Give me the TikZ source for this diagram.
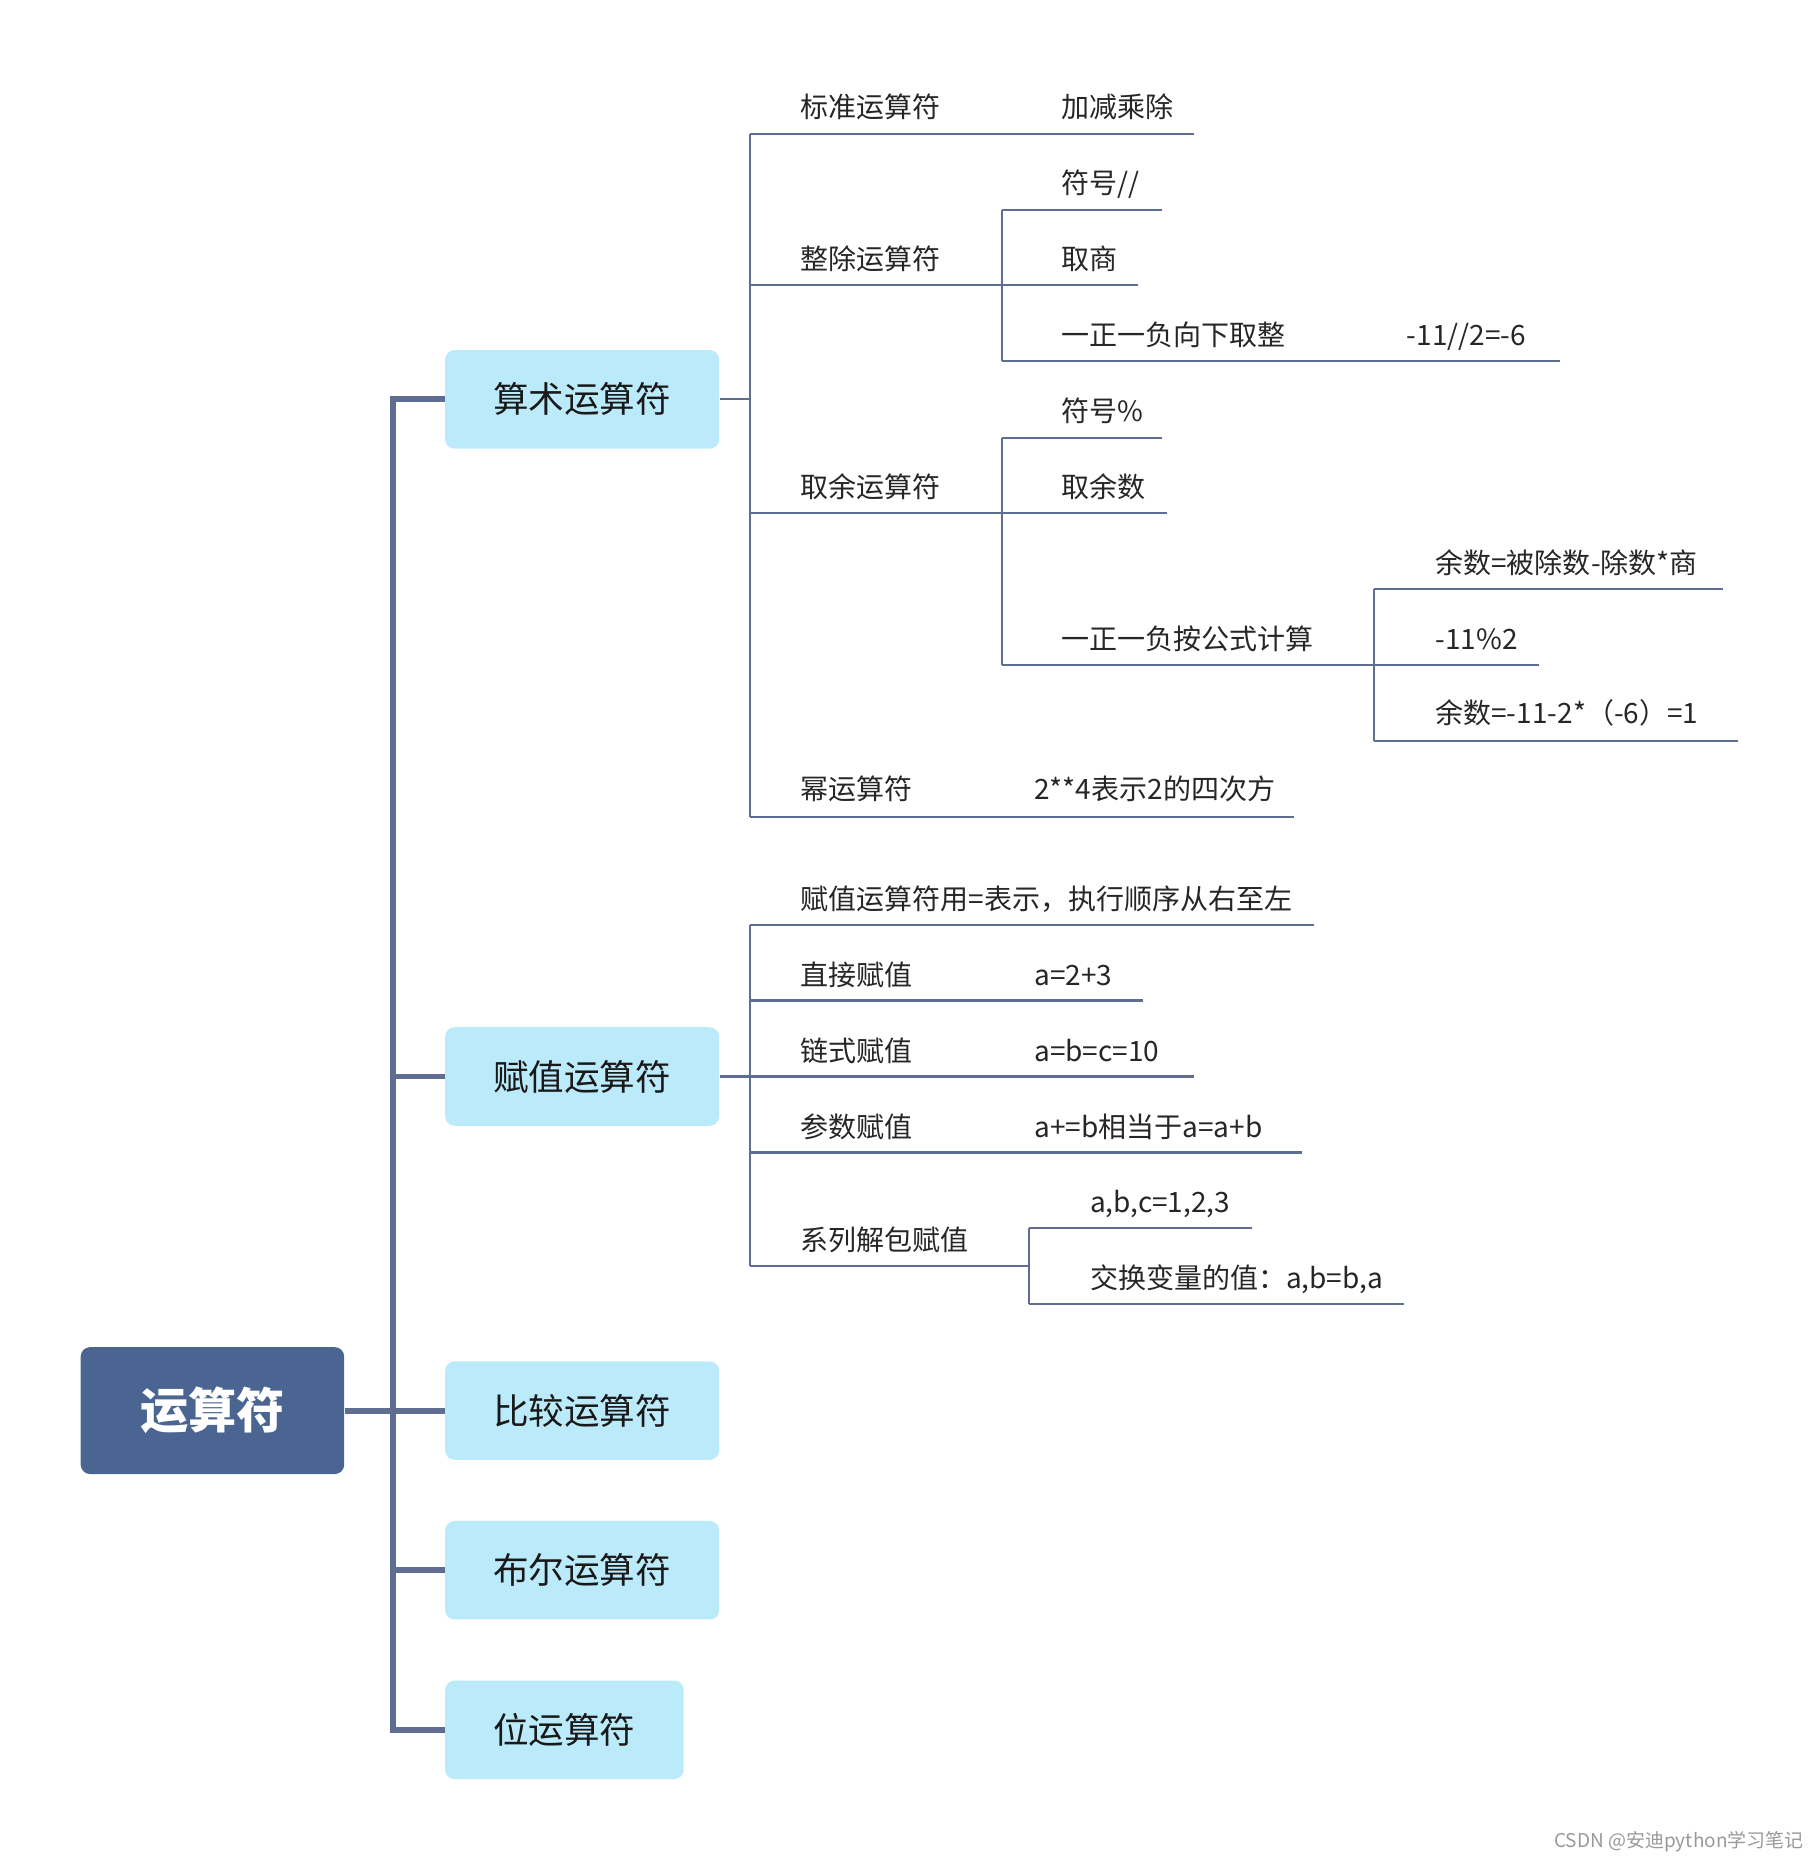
\documentclass[tikz,border=0pt]{standalone}
\usepackage{fontspec}
\setmainfont{Noto Sans CJK SC}
\newfontfamily\cjk{Noto Sans CJK SC}
\definecolor{rootblue}{HTML}{4A6591}
\definecolor{boxblue}{HTML}{BBEBFA}
\definecolor{linec}{HTML}{5F6D91}
\begin{document}
\begin{tikzpicture}[x=0.5pt,y=-0.5pt,
  rootbox/.style={fill=rootblue,rounded corners=4pt,minimum width=111pt,minimum height=53.5pt,text=white,font=\cjk\fontsize{20.3pt}{24pt}\selectfont\bfseries,inner sep=0pt},
  lvbox/.style={fill=boxblue,rounded corners=4pt,minimum width=115.5pt,minimum height=41.5pt,font=\cjk\fontsize{15pt}{18pt}\selectfont,inner sep=0pt,text=black!90},
  leaf/.style={anchor=base west,inner sep=0pt,font=\cjk\fontsize{11.8pt}{14pt}\selectfont,text=black!85},
  trunkline/.style={draw=linec,line width=2.5pt},
  br/.style={draw=linec,line width=0.9pt}]
\useasboundingbox (0,0) rectangle (1533,1568);
% root and level 1
\node[rootbox] (root) at (179,1188.5) {运算符};
\node[lvbox] (b1) at (490.5,336.5) {算术运算符};
\node[lvbox] (b2) at (490.5,907) {赋值运算符};
\node[lvbox] (b3) at (490.5,1188.5) {比较运算符};
\node[lvbox] (b4) at (490.5,1323) {布尔运算符};
\node[lvbox,minimum width=100.5pt] (b5) at (475.5,1457.5) {位运算符};
\coordinate (tr) at (331,0);
\draw[trunkline,line join=miter] (b1.west) -- (b1.west -| tr) -- (b5.west -| tr) -- (b5.west);
\draw[trunkline] (root.east) -- (b3.west);
\draw[trunkline] (b2.west -| tr) -- (b2.west);
\draw[trunkline] (b4.west -| tr) -- (b4.west);
% arithmetic leaves
\node[leaf] (a1) at (674,99) {标准运算符};
\node[leaf] (a1v) at (894,99) {加减乘除};
\node[leaf] (a2) at (674,227) {整除运算符};
\node[leaf] (a21) at (894,163) {符号//};
\node[leaf] (a22) at (894,227) {取商};
\node[leaf] (a23) at (894,291) {一正一负向下取整};
\node[leaf] (a23v) at (1185,291) {-11//2=-6};
\node[leaf] (a3) at (674,419) {取余运算符};
\node[leaf] (a31) at (894,355) {符号\%};
\node[leaf] (a32) at (894,419) {取余数};
\node[leaf] (a33) at (894,547) {一正一负按公式计算};
\node[leaf] (a331) at (1209,483) {余数=被除数-除数*商};
\node[leaf] (a332) at (1209,547) {-11\%2};
\node[leaf] (a333) at (1209,610) {余数=-11-2*（-6）=1};
\node[leaf] (a4) at (674,674) {幂运算符};
\node[leaf] (a4v) at (871,674) {2**4表示2的四次方};
% arithmetic lines
\coordinate (ax) at (632,336.5);
\draw[br] (b1.east) -- (ax);
\draw[br] (632,113) -- (632,688);
\draw[br] (632,113) -- (1006,113);
\draw[br] (632,240) -- (959,240);
\draw[br] (844,177) -- (979,177);
\draw[br] (844,304) -- (1314,304);
\draw[br] (844,177) -- (844,304);
\draw[br] (632,432) -- (983,432);
\draw[br] (844,369) -- (979,369);
\draw[br] (844,560) -- (1297,560);
\draw[br] (844,369) -- (844,560);
\draw[br] (1158,496) -- (1452,496);
\draw[br] (1158,624) -- (1464,624);
\draw[br] (1158,496) -- (1158,624);
\draw[br] (632,688) -- (1090,688);
% assignment leaves
\node[leaf] (c0) at (674,766) {赋值运算符用=表示，执行顺序从右至左};
\node[leaf] (c1) at (674,830) {直接赋值};
\node[leaf] (c1v) at (871,830) {a=2+3};
\node[leaf] (c2) at (674,894) {链式赋值};
\node[leaf] (c2v) at (871,894) {a=b=c=10};
\node[leaf] (c3) at (674,958) {参数赋值};
\node[leaf] (c3v) at (871,958) {a+=b相当于a=a+b};
\node[leaf] (c4) at (674,1054) {系列解包赋值};
\node[leaf] (c41) at (918,1022) {a,b,c=1,2,3};
\node[leaf] (c42) at (918,1086) {交换变量的值：a,b=b,a};
% assignment lines
\coordinate (cx) at (632,907);
\draw[br] (b2.east) -- (cx);
\draw[br] (632,779) -- (632,1067);
\draw[br] (632,779) -- (1107,779);
\draw[br] (632,843) -- (963,843);
\draw[br] (632,907) -- (1006,907);
\draw[br] (632,971) -- (1097,971);
\draw[br] (632,1067) -- (867,1067);
\draw[br] (867,1035) -- (867,1099);
\draw[br] (867,1035) -- (1055,1035);
\draw[br] (867,1099) -- (1183,1099);
% watermark
\node[anchor=base east,inner sep=0pt,text=black!40,font=\cjk\fontsize{8pt}{10pt}\selectfont] (wm) at (1520,1557) {CSDN @安迪python学习笔记};
\end{tikzpicture}
\end{document}
